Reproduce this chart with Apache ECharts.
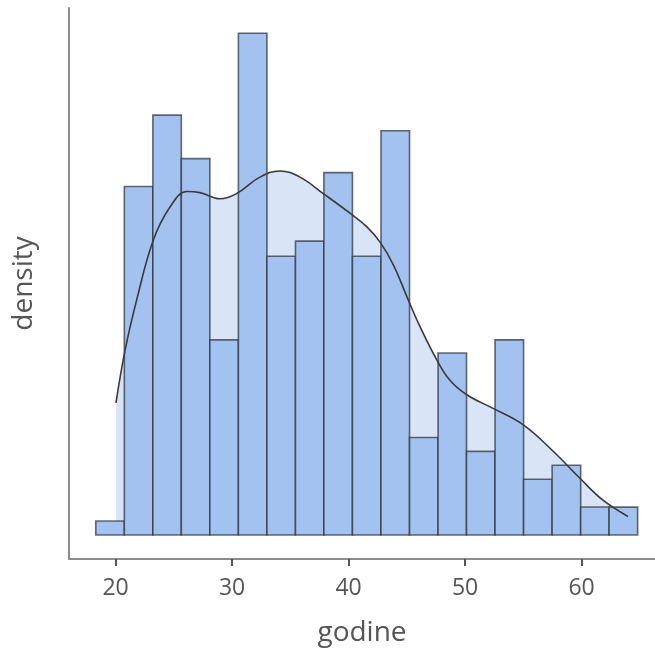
<!DOCTYPE html>
<html>
<head>
<meta charset="utf-8">
<script src="https://cdn.jsdelivr.net/npm/echarts@6/dist/echarts.min.js"></script>
<style>
html,body{margin:0;padding:0;background:#fff;}
#chart{width:655px;height:654px;}
</style>
</head>
<body>
<div id="chart"></div>
<script>
// Histogram bin edges (years, "godine") and counts
const binEdges = [18.30, 20.75, 23.20, 25.64, 28.09, 30.54, 32.99, 35.44, 37.88, 40.33,
                  42.78, 45.23, 47.68, 50.12, 52.57, 55.02, 57.47, 59.92, 62.36, 64.81];
const binCounts = [1, 25, 30, 27, 14, 36, 20, 21, 26, 20, 29, 7, 13, 6, 14, 4, 5, 2, 2];

// Kernel density curve (x in years, y in density)
const curveX = [20.03, 20.81, 21.81, 23.24, 24.67, 26.10, 27.24, 28.96, 30.39, 32.39,
                34.10, 35.83, 37.83, 40.12, 41.55, 42.70, 43.84, 45.12, 46.13, 47.56,
                48.70, 50.14, 52.36, 54.97, 57.58, 59.86, 61.81, 63.98];
const curveY = [0.0128, 0.0179, 0.0228, 0.0286, 0.0318, 0.0333, 0.0332, 0.0326, 0.0331, 0.0347,
                0.0353, 0.0347, 0.0331, 0.0312, 0.0299, 0.0284, 0.0262, 0.0228, 0.0202, 0.0170,
                0.0150, 0.0136, 0.0123, 0.0107, 0.0081, 0.0055, 0.0034, 0.0018];

const xTicks = [20, 30, 40, 50, 60];

const total = binCounts.reduce((a, b) => a + b, 0);
const barData = binCounts.map((c, i) => {
  const w = binEdges[i + 1] - binEdges[i];
  return [binEdges[i], binEdges[i + 1], c / (total * w)];
});
const curveData = curveX.map((x, i) => [x, curveY[i]]);

const FONT = "'Open Sans', 'Noto Sans', sans-serif";
const chart = echarts.init(document.getElementById('chart'), null, {renderer: 'canvas'});
chart.setOption({
  animation: false,
  backgroundColor: '#ffffff',
  grid: {left: 69, right: 0, top: 8, bottom: 95},
  xAxis: {
    type: 'value',
    min: 16, max: 66.3,
    name: 'godine',
    nameLocation: 'middle',
    nameGap: 60,
    nameTextStyle: {fontFamily: FONT, fontSize: 28, color: '#555'},
    axisLine: {show: true, onZero: false, lineStyle: {color: '#8c8c8c', width: 2}},
    axisTick: {show: true, length: 7, customValues: xTicks, lineStyle: {color: '#555', width: 2}},
    axisLabel: {customValues: xTicks, margin: 18, fontFamily: FONT, fontSize: 23, color: '#555'},
    splitLine: {show: false}
  },
  yAxis: {
    type: 'value',
    min: -0.002327, max: 0.0511,
    name: 'density',
    nameLocation: 'middle',
    nameRotate: 90,
    nameGap: 31,
    nameTextStyle: {fontFamily: FONT, fontSize: 28, color: '#555'},
    axisLine: {show: true, onZero: false, lineStyle: {color: '#8c8c8c', width: 2}},
    axisTick: {show: false},
    axisLabel: {show: false},
    splitLine: {show: false}
  },
  series: [
    {
      type: 'line',
      data: curveData,
      smooth: 0.4,
      symbol: 'none',
      lineStyle: {width: 0, opacity: 0},
      areaStyle: {color: '#d9e4f6', opacity: 1},
      z: 1
    },
    {
      type: 'custom',
      data: barData,
      encode: {x: [0, 1], y: 2},
      renderItem: function (params, api) {
        const p0 = api.coord([api.value(0), api.value(2)]);
        const p1 = api.coord([api.value(1), 0]);
        return {
          type: 'rect',
          shape: {x: p0[0], y: p0[1], width: p1[0] - p0[0], height: p1[1] - p0[1]},
          style: {fill: '#a4c2f0', stroke: 'rgba(45,50,60,0.72)', lineWidth: 1.6}
        };
      },
      z: 2
    },
    {
      type: 'line',
      data: curveData,
      smooth: 0.4,
      symbol: 'none',
      lineStyle: {color: '#3a3a3a', width: 1.6},
      z: 3
    }
  ]
});
</script>
</body>
</html>
